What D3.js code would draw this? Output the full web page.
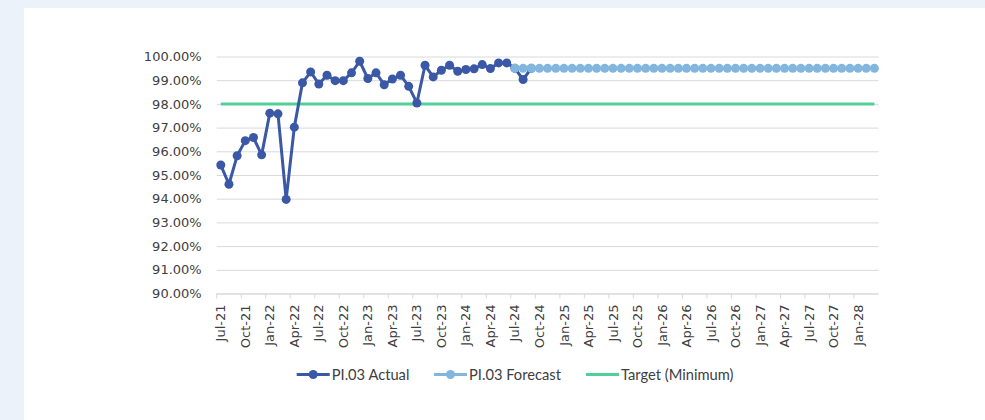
<!DOCTYPE html>
<html>
<head>
<meta charset="utf-8">
<script src="https://cdn.jsdelivr.net/npm/d3@7"></script>
<style>
  html, body { margin: 0; padding: 0; background: #ebf2fa; }
  #chart { position: absolute; left: 24px; top: 8px; }
  svg text { fill: #404040; }
</style>
</head>
<body>
<div id="chart"></div>
<script>
// monthly categories, Jul-21 .. Mar-28
const months = [
  'Jul-21','Aug-21','Sep-21','Oct-21','Nov-21','Dec-21',
  'Jan-22','Feb-22','Mar-22','Apr-22','May-22','Jun-22','Jul-22','Aug-22','Sep-22','Oct-22','Nov-22','Dec-22',
  'Jan-23','Feb-23','Mar-23','Apr-23','May-23','Jun-23','Jul-23','Aug-23','Sep-23','Oct-23','Nov-23','Dec-23',
  'Jan-24','Feb-24','Mar-24','Apr-24','May-24','Jun-24','Jul-24','Aug-24','Sep-24','Oct-24','Nov-24','Dec-24',
  'Jan-25','Feb-25','Mar-25','Apr-25','May-25','Jun-25','Jul-25','Aug-25','Sep-25','Oct-25','Nov-25','Dec-25',
  'Jan-26','Feb-26','Mar-26','Apr-26','May-26','Jun-26','Jul-26','Aug-26','Sep-26','Oct-26','Nov-26','Dec-26',
  'Jan-27','Feb-27','Mar-27','Apr-27','May-27','Jun-27','Jul-27','Aug-27','Sep-27','Oct-27','Nov-27','Dec-27',
  'Jan-28','Feb-28','Mar-28'
];

// PI.03 Actual (%), from Jul-21
const actual = [
  95.42, 94.61, 95.81, 96.45, 96.58, 95.85, 97.61, 97.58, 93.97, 97.02,
  98.89, 99.35, 98.84, 99.21, 98.98, 98.98, 99.31, 99.80, 99.07, 99.31,
  98.81, 99.05, 99.21, 98.74, 98.04, 99.63, 99.14, 99.42, 99.63, 99.38,
  99.45, 99.48, 99.66, 99.49, 99.73, 99.73, 99.50, 99.03, 99.50
];

// PI.03 Forecast (%), from Jul-24
const forecastStart = 'Jul-24';
const forecast = [
  99.5, 99.5, 99.5, 99.5, 99.5, 99.5, 99.5, 99.5, 99.5, 99.5,
  99.5, 99.5, 99.5, 99.5, 99.5, 99.5, 99.5, 99.5, 99.5, 99.5,
  99.5, 99.5, 99.5, 99.5, 99.5, 99.5, 99.5, 99.5, 99.5, 99.5,
  99.5, 99.5, 99.5, 99.5, 99.5, 99.5, 99.5, 99.5, 99.5, 99.5,
  99.5, 99.5, 99.5, 99.5, 99.5
];

const target = 98;
const yTicks = [90, 91, 92, 93, 94, 95, 96, 97, 98, 99, 100];

const series = [
  { name: 'PI.03 Actual', color: '#3b58a6', marker: true },
  { name: 'PI.03 Forecast', color: '#82b6df', marker: true },
  { name: 'Target (Minimum)', color: '#50cf98', marker: false },
];

const width = 985 - 24;
const height = 420 - 8;

const svg = d3.select('#chart')
  .append('svg')
  .attr('width', width)
  .attr('height', height)
  .style('background', '#fff');

// plot area (page coords minus panel offset)
const plotLeft = 216.7 - 24, plotRight = 878.5 - 24;
const plotTop = 56.5 - 8, plotBottom = 293.5 - 8;

const x = d3.scaleBand().domain(months).range([plotLeft, plotRight]).padding(0);
const bw = x.bandwidth();
const cx = (m) => x(m) + bw / 2;

const y = d3.scaleLinear().domain([90, 100]).range([plotBottom, plotTop]);

// gridlines
svg.append('g')
  .attr('transform', `translate(${plotLeft},0)`)
  .call(d3.axisLeft(y).tickValues(yTicks).tickSize(-(plotRight - plotLeft)).tickFormat(''))
  .call((g) => g.select('.domain').remove())
  .call((g) => g.selectAll('line').attr('stroke', '#d9d9d9'));

// y labels
svg.append('g')
  .attr('transform', `translate(${plotLeft - 12},0)`)
  .call(d3.axisLeft(y).tickValues(yTicks).tickSize(0).tickFormat((d) => d.toFixed(2) + '%'))
  .call((g) => g.select('.domain').remove())
  .call((g) => g.selectAll('text')
    .attr('font-family', 'DejaVu Sans')
    .attr('font-size', 13)
    .attr('fill', '#404040'));

// x axis
const labelMonths = months.filter((d, i) => i % 3 === 0);
const xAxis = svg.append('g')
  .attr('transform', `translate(0,${plotBottom})`)
  .call(d3.axisBottom(x).tickValues(labelMonths).tickSize(5).tickSizeOuter(0));
xAxis.select('.domain').attr('stroke', '#d9d9d9').attr('d', `M${plotLeft},0.5H${plotRight}`);
xAxis.selectAll('.tick line')
  .attr('stroke', '#d9d9d9')
  .attr('x1', -bw / 2).attr('x2', -bw / 2);
xAxis.selectAll('.tick text')
  .attr('font-family', 'DejaVu Sans')
  .attr('font-size', 13)
  .attr('fill', '#404040')
  .attr('text-anchor', 'end')
  .attr('transform', 'rotate(-90)')
  .attr('x', -11)
  .attr('y', 0)
  .attr('dy', '0.35em');

// target line
svg.append('line')
  .attr('x1', cx(months[0])).attr('x2', cx(months[months.length - 1]))
  .attr('y1', y(target)).attr('y2', y(target))
  .attr('stroke', series[2].color)
  .attr('stroke-width', 3);

const line = d3.line().x((d) => cx(d.m)).y((d) => y(d.v));

function drawSeries(vals, startIdx, s) {
  const pts = vals.map((v, i) => ({ m: months[startIdx + i], v }));
  svg.append('path')
    .datum(pts)
    .attr('d', line)
    .attr('fill', 'none')
    .attr('stroke', s.color)
    .attr('stroke-width', 3)
    .attr('stroke-linejoin', 'round');
  svg.append('g')
    .selectAll('circle')
    .data(pts)
    .join('circle')
    .attr('cx', (d) => cx(d.m))
    .attr('cy', (d) => y(d.v))
    .attr('r', 4.5)
    .attr('fill', s.color);
}

drawSeries(actual, 0, series[0]);
drawSeries(forecast, months.indexOf(forecastStart), series[1]);

// legend
const legendX = [296.7 - 24, 434 - 24, 586 - 24];
const legendY = 374.5 - 8;
const lg = svg.append('g')
  .selectAll('g')
  .data(series)
  .join('g')
  .attr('transform', (d, i) => `translate(${legendX[i]},${legendY})`);
lg.append('line')
  .attr('x1', 0).attr('x2', 33)
  .attr('stroke', (d) => d.color)
  .attr('stroke-width', 3);
lg.filter((d) => d.marker)
  .append('circle')
  .attr('cx', 16.5).attr('r', 4.5)
  .attr('fill', (d) => d.color);
lg.append('text')
  .attr('x', 35)
  .attr('dy', '0.35em')
  .attr('font-family', 'Lato')
  .attr('font-size', 14.7)
  .attr('fill', '#404040')
  .text((d) => d.name);
</script>
</body>
</html>
